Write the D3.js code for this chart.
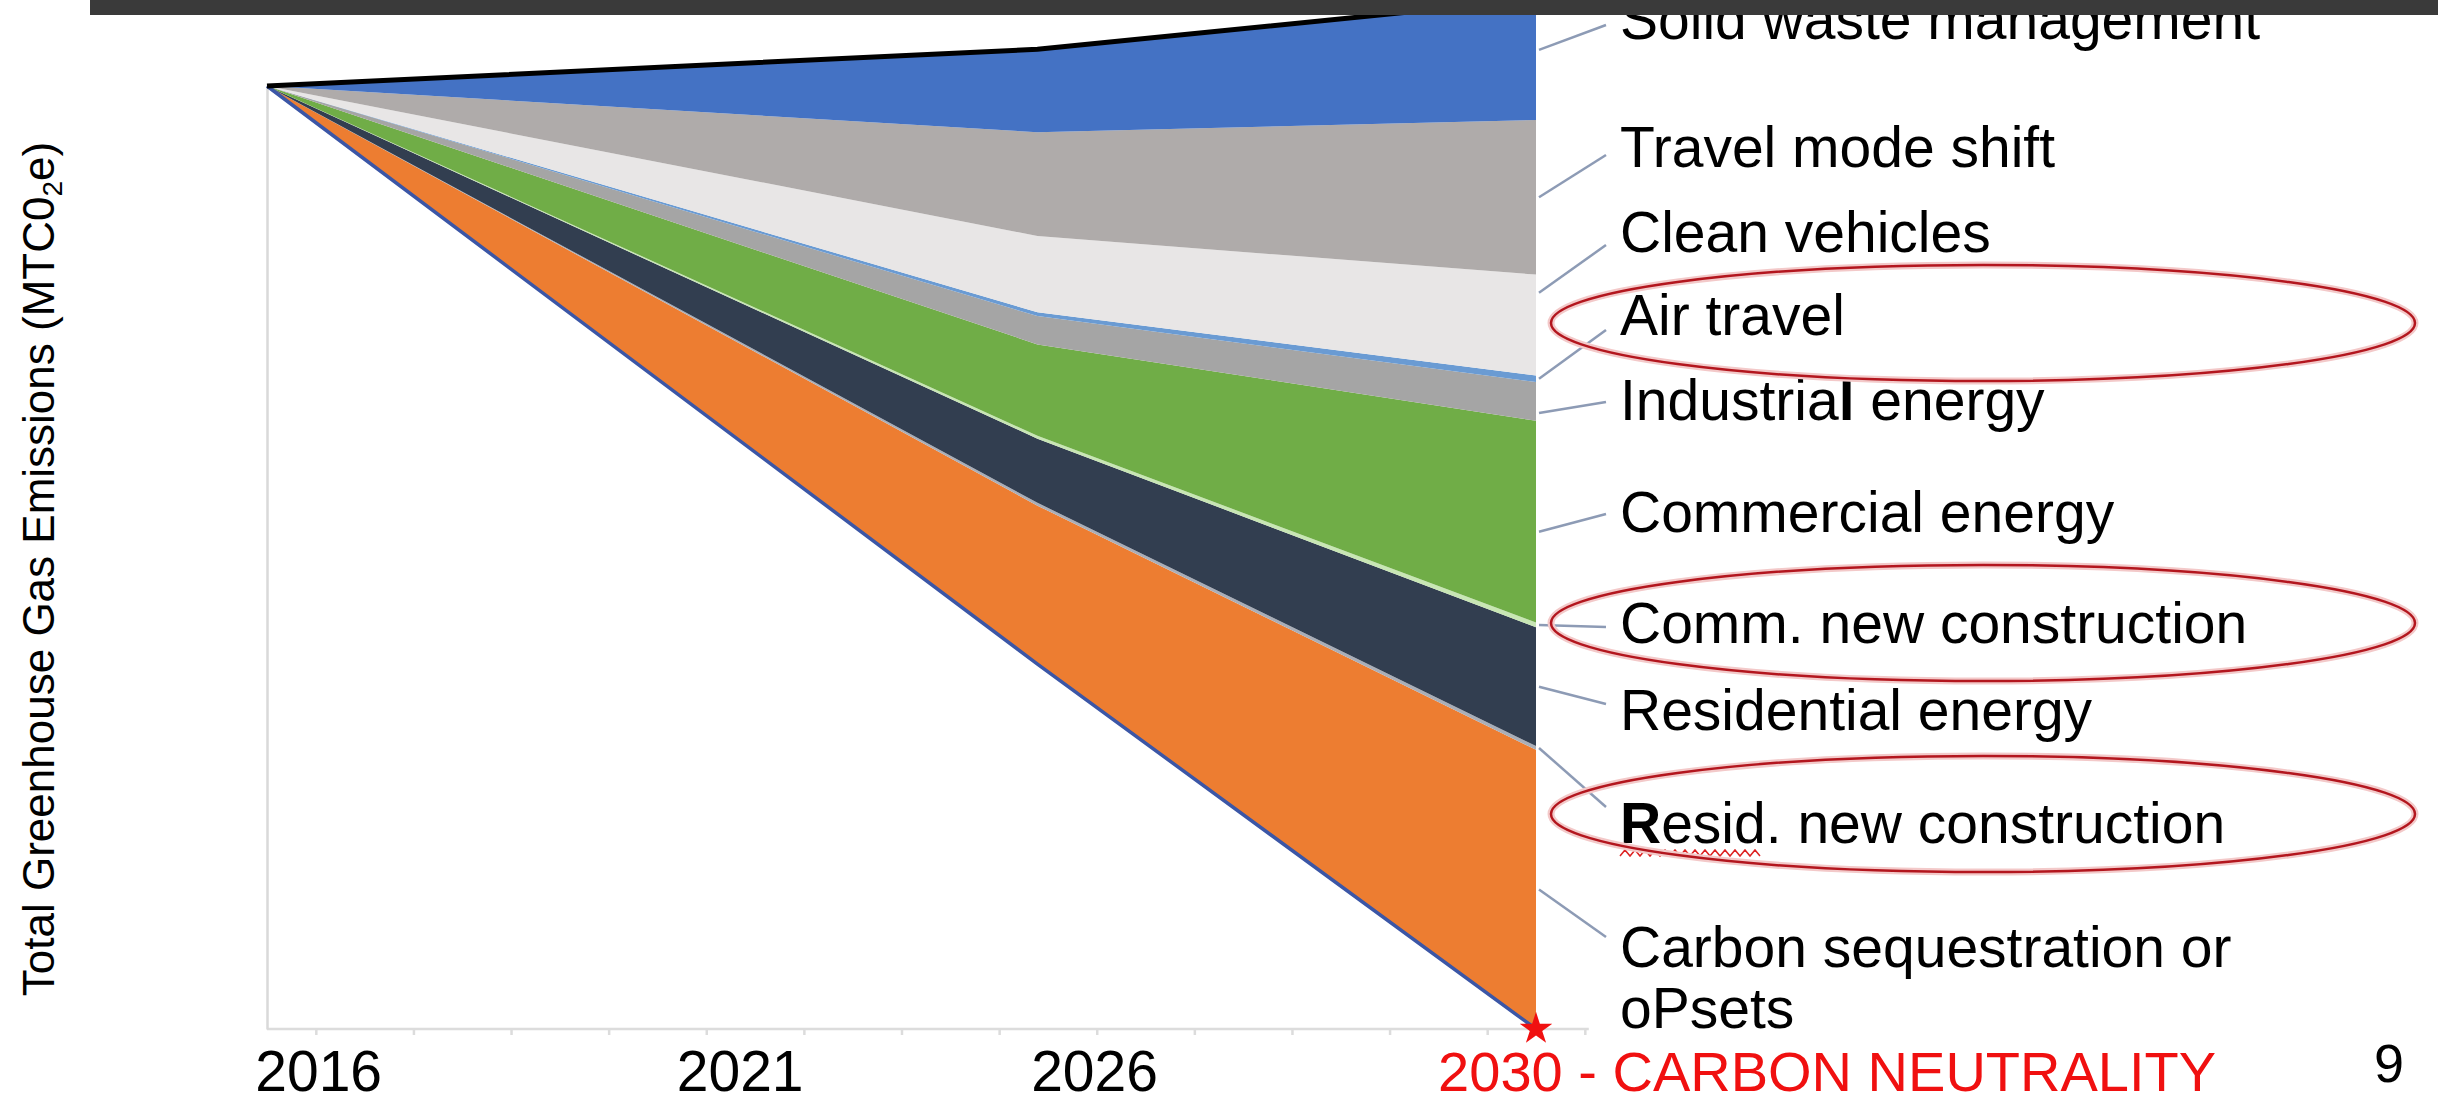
<!DOCTYPE html>
<html>
<head>
<meta charset="utf-8">
<script src="https://cdn.jsdelivr.net/npm/d3@7"></script>
<style>
  body { margin: 0; background: #fff; }
  text { font-family: "Liberation Sans", Arial, sans-serif; }
</style>
</head>
<body>
<div id="chart"></div>
<script>
// data (index, 2016 level = 100)
const years = [2016, 2024.5, 2030];
const remaining   = [100, 38.7, 0];
const carbon      = [0, 16.8, 29.6];
const residNew    = [0, 0.3, 0.4];
const residential = [0, 6.8, 12.6];
const commNew     = [0, 0.3, 0.5];
const commercial  = [0, 9.7, 21.4];
const industrial  = [0, 3.0, 4.1];
const air         = [0, 0.4, 0.7];
const clean       = [0, 8.1, 10.7];
const mode        = [0, 11.0, 16.4];
const waste       = [0, 8.8, 12.8];

const keys = ["remaining", "carbon", "residNew", "residential", "commNew",
              "commercial", "industrial", "air", "clean", "mode", "waste"];
const seriesValues = {remaining, carbon, residNew, residential, commNew,
                      commercial, industrial, air, clean, mode, waste};

// labels, top to bottom
const labelKeys = ["waste", "mode", "clean", "air", "industrial", "commercial",
                   "commNew", "residential", "residNew", "carbon"];
const labelText = ["Solid waste management", "Travel mode shift", "Clean vehicles",
                   "Air travel", "Industrial energy", "Commercial energy",
                   "Comm. new construction", "Residential energy",
                   "Resid. new construction", "Carbon sequestration or"];
const circled = ["air", "commNew", "residNew"];

// axis labels
const axisLabels = ["2016", "2021", "2026", "2030 - CARBON NEUTRALITY"];
const axisLabelYears = [2016.57, 2021.22, 2025.13, 2028.92];

const colors = {
  remaining: "none", carbon: "#ed7d31", residNew: "#a9aeb8", residential: "#323e50",
  commNew: "#c8e6b4", commercial: "#70ad47", industrial: "#a5a5a5", air: "#6a9bd3",
  clean: "#e8e6e6", mode: "#afabaa", waste: "#4472c4"
};

// layout
const W = 2438, H = 1113;
const labelX = 1620;
const labelBase = [39, 167, 252, 335, 420, 532, 643, 730, 843, 967];
const leaderEnd = [25, 155, 245, 330, 402, 514, 627, 704, 807, 937];
// where along each band (0 = bottom, 1 = top) the leader starts
const leaderAt = [0.58, 0.5, 0.82, 0.5, 0.2, 0.45, 0.5, 0.5, 0.5, 0.5];
const ellipseY = {air: 323, commNew: 623, residNew: 814};

const svg = d3.select("#chart")
  .append("svg")
    .attr("width", W)
    .attr("height", H);

const x = d3.scaleLinear().domain([2016, 2030]).range([267, 1536]);
const y = d3.scaleLinear().domain([0, 100]).range([1029, 86]);

const table = years.map((yr, i) => {
  const row = {year: yr};
  keys.forEach(k => row[k] = seriesValues[k][i]);
  return row;
});
const stacked = d3.stack().keys(keys)(table);

// axes (light gray)
const xAxisG = svg.append("g")
  .attr("transform", `translate(0,${y(0)})`)
  .call(d3.axisBottom(x)
    .tickValues(d3.range(14).map(i => 2016 + (i + 0.5) * 14 / 13))
    .tickSize(6)
    .tickFormat(""));
xAxisG.select(".domain").attr("d", `M${x(2016)},0H${x(2016 + 13.5 * 14 / 13) + 4}`);
xAxisG.selectAll("line, path").attr("stroke", "#dcdcdc").attr("stroke-width", 2.5);

svg.append("g")
  .attr("transform", `translate(${x(2016)},0)`)
  .call(d3.axisLeft(y).tickValues([]).tickSizeOuter(0))
  .select(".domain").attr("stroke", "#d9d9d9").attr("stroke-width", 2.5);

// stacked wedges
const area = d3.area()
  .x(d => x(d.data.year))
  .y0(d => y(d[0]))
  .y1(d => y(d[1]));

svg.selectAll(".wedge")
  .data(stacked)
  .join("path")
    .attr("class", "wedge")
    .attr("d", area)
    .attr("fill", d => colors[d.key]);

// boundary lines
const topLine = d3.line().x(d => x(d.data.year)).y(d => y(d[1]));
svg.append("path")
  .datum(stacked[0])
  .attr("d", topLine)
  .attr("fill", "none")
  .attr("stroke", "#3b56a6")
  .attr("stroke-width", 3.5);
svg.append("path")
  .datum(stacked[stacked.length - 1])
  .attr("d", topLine)
  .attr("fill", "none")
  .attr("stroke", "#000")
  .attr("stroke-width", 5);

// star at carbon neutrality
svg.append("path")
  .attr("d", d3.symbol(d3.symbolStar).size(330))
  .attr("transform", `translate(${x(2030)},${y(0)})`)
  .attr("fill", "#f01010");

// leader lines
const byKey = {};
stacked.forEach(s => byKey[s.key] = s);
svg.selectAll(".leader")
  .data(labelKeys)
  .join("line")
    .attr("class", "leader")
    .attr("x1", x(2030) + 3)
    .attr("y1", (k, i) => {
      const last = byKey[k][byKey[k].length - 1];
      return y(last[0] + leaderAt[i] * (last[1] - last[0]));
    })
    .attr("x2", labelX - 14)
    .attr("y2", (k, i) => leaderEnd[i])
    .attr("stroke", "#8d9bb5")
    .attr("stroke-width", 2.5);

// series labels
const labels = svg.selectAll(".slabel")
  .data(labelText)
  .join("text")
    .attr("class", "slabel")
    .attr("x", labelX)
    .attr("y", (d, i) => labelBase[i])
    .attr("font-size", 57)
    .attr("fill", "#000");
labels.each(function(d) {
  const t = d3.select(this);
  if (d === "Industrial energy") {
    t.append("tspan").text("Industria");
    t.append("tspan").attr("font-weight", "bold").text("l");
    t.append("tspan").text(" energy");
  } else if (d === "Resid. new construction") {
    t.append("tspan").attr("font-weight", "bold").text("R");
    t.append("tspan").text("esid. new construction");
  } else {
    t.text(d);
  }
});
svg.append("text")
  .attr("x", labelX)
  .attr("y", labelBase[labelBase.length - 1] + 61)
  .attr("font-size", 57)
  .text("oPsets");

// spell-check squiggle under "Resid"
const sq = d3.range(0, 141, 5).map((v, i) => [labelX + v, labelBase[8] + 10 + (i % 2 ? -3 : 3)]);
svg.append("path")
  .attr("d", d3.line()(sq))
  .attr("fill", "none")
  .attr("stroke", "#d22")
  .attr("stroke-width", 1.5);

// red ellipses
circled.forEach(k => {
  svg.append("ellipse")
    .attr("cx", 1983).attr("cy", ellipseY[k]).attr("rx", 432).attr("ry", 58)
    .attr("fill", "none").attr("stroke", "#f3c9c9").attr("stroke-width", 7);
  svg.append("ellipse")
    .attr("cx", 1983).attr("cy", ellipseY[k]).attr("rx", 432).attr("ry", 58)
    .attr("fill", "none").attr("stroke", "#b3161e").attr("stroke-width", 2.5);
});

// x labels
svg.selectAll(".xlabel")
  .data(axisLabels)
  .join("text")
    .attr("class", "xlabel")
    .attr("x", (d, i) => x(axisLabelYears[i]))
    .attr("y", 1091)
    .attr("text-anchor", (d, i) => i === 3 ? "start" : "middle")
    .attr("font-size", (d, i) => i === 3 ? 56 : 57)
    .attr("fill", (d, i) => i === 3 ? "#f01010" : "#000")
    .text(d => d);

// y title
const yt = svg.append("text")
  .attr("transform", "translate(54,569) rotate(-90)")
  .attr("text-anchor", "middle")
  .attr("font-size", 44)
  .attr("fill", "#000");
yt.append("tspan").text("Total Greenhouse Gas Emissions (MTC0");
yt.append("tspan").attr("font-size", 28).attr("dy", 8).text("2");
yt.append("tspan").attr("dy", -8).text("e)");

// page number
svg.append("text")
  .attr("x", 2374).attr("y", 1082)
  .attr("font-size", 54)
  .text("9");

// dark header bar
svg.append("rect")
  .attr("x", 90).attr("y", 0)
  .attr("width", W - 90).attr("height", 15)
  .attr("fill", "#3a3a3a");
</script>
</body>
</html>
